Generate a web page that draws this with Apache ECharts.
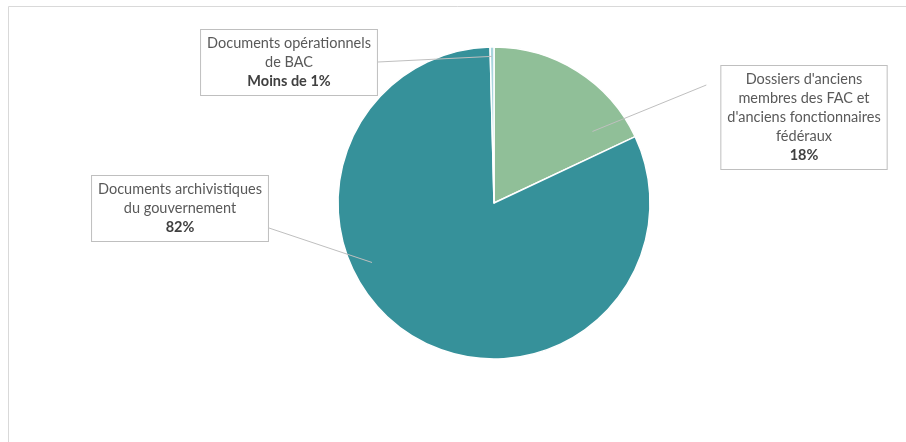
<!DOCTYPE html>
<html>
<head>
<meta charset="utf-8">
<script src="https://cdn.jsdelivr.net/npm/echarts@6/dist/echarts.min.js"></script>
<style>
  html, body { margin: 0; padding: 0; background: #ffffff; }
  #chart { width: 906px; height: 442px; }
</style>
</head>
<body>
<div id="chart"></div>
<script>
// Slice names (as wrapped in their callouts), shares in percent, and fills
const categories = [
  "Dossiers d'anciens\nmembres des FAC et\nd'anciens fonctionnaires\nfédéraux",
  "Documents archivistiques\ndu gouvernement",
  "Documents opérationnels\nde BAC"
];
const shares = [18.0, 81.6, 0.4];
const sliceColors = ['#90bf98', '#36919a', '#a8d5de'];

// Pie geometry in pixels
const CX = 494, CY = 203, R = 156;

// Callout placement: box top-centre, where the leader leaves the box,
// and where it ends inside the slice (angle clockwise from 12 o'clock, fraction of radius)
const callouts = [
  { cx: 804, top: 66,  side: 'left',  gap: 14, fromY: 19, tipDeg: 54,   tipR: 0.78 },
  { cx: 180, top: 176, side: 'right', gap: 0,  fromY: 52, tipDeg: 244,  tipR: 0.87 },
  { cx: 289, top: 30,  side: 'right', gap: 0,  fromY: 32, tipDeg: -0.8, tipR: 0.94 }
];

function percentText(p) {
  return p < 1 ? 'Moins de 1%' : Math.round(p) + '%';
}

const pieData = categories.map((name, i) => ({
  name: name,
  value: shares[i],
  itemStyle: { color: sliceColors[i] }
}));

const chart = echarts.init(document.getElementById('chart'), null, { renderer: 'canvas' });

chart.setOption({
  animation: false,
  backgroundColor: '#ffffff',
  graphic: [{
    type: 'rect',
    silent: true,
    shape: { x: 8.5, y: 6.5, width: 1200, height: 1200 },
    style: { fill: 'none', stroke: '#d9d9d9', lineWidth: 1 }
  }],
  series: [
    // The filled slices
    {
      type: 'pie',
      z: 2,
      center: [CX, CY],
      radius: [0, R],
      startAngle: 90,
      clockwise: true,
      data: pieData,
      itemStyle: { borderColor: '#ffffff', borderWidth: 1.5 },
      emphasis: { disabled: true },
      label: { show: false },
      labelLine: { show: false }
    },
    // Same slices, unfilled, carrying the callouts so leaders sit over the fills
    {
      type: 'pie',
      z: 3,
      silent: true,
      center: [CX, CY],
      radius: [0, R],
      startAngle: 90,
      clockwise: true,
      avoidLabelOverlap: false,
      minShowLabelAngle: 0,
      data: categories.map((name, i) => ({ name: name, value: shares[i] })),
      itemStyle: { color: 'rgba(0,0,0,0)', borderWidth: 0 },
      emphasis: { disabled: true },
      label: {
        show: true,
        position: 'outside',
        formatter: p => '{n|' + p.name.split('\n').join('}\n{n|') + '}\n{p|' + percentText(p.percent) + '}',
        backgroundColor: '#ffffff',
        borderColor: '#bfbfbf',
        borderWidth: 1,
        padding: [4, 6, 4, 6],
        rich: {
          n: { fontFamily: 'Lato', fontSize: 14.5, lineHeight: 19, color: '#595959', align: 'center' },
          p: { fontFamily: 'Lato', fontSize: 14.5, lineHeight: 19, color: '#404040', fontWeight: 'bold', align: 'center' }
        }
      },
      labelLine: {
        show: true,
        showAbove: true,
        length: 10,
        length2: 0,
        lineStyle: { color: '#bfbfbf', width: 1 }
      },
      labelLayout: function (params) {
        const c = callouts[params.dataIndex];
        const w = params.labelRect.width;
        const left = c.cx - w / 2;
        const sx = c.side === 'left' ? left - c.gap : left + w + c.gap;
        const sy = c.top + c.fromY;
        const a = c.tipDeg * Math.PI / 180;
        const tx = CX + R * c.tipR * Math.sin(a);
        const ty = CY - R * c.tipR * Math.cos(a);
        return {
          x: c.cx,
          y: c.top,
          align: 'center',
          verticalAlign: 'top',
          labelLinePoints: [[sx, sy], [tx, ty]]
        };
      }
    }
  ]
});
</script>
</body>
</html>
